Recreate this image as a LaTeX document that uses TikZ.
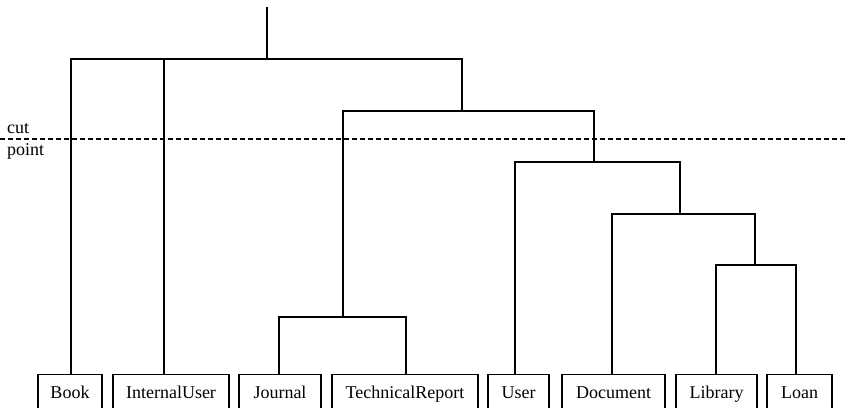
\documentclass[tikz,border=0pt]{standalone}
\usepackage{fontspec}
\setmainfont{Liberation Serif}
\begin{document}
\begin{tikzpicture}[x=1pt,y=-1pt,
  tree/.style={draw=black,line width=1.1pt},
  cutline/.style={draw=black,line width=1.1pt,dash pattern=on 5pt off 3pt},
  leaf/.style={draw=black,line width=1.1pt,anchor=north,inner xsep=0pt,inner ysep=0pt,
    text height=24pt,text depth=20pt,font=\fontsize{18}{21}\selectfont},
  lbl/.style={anchor=base west,inner sep=0pt,font=\fontsize{18}{21}\selectfont}]
\useasboundingbox (0,0) rectangle (848,407);
\clip (0,0) rectangle (848,407);
% leaves
\node[leaf,minimum width=64pt]  (book)    at (70,374)    {Book};
\node[leaf,minimum width=116pt] (iu)      at (171,374)   {InternalUser};
\node[leaf,minimum width=82pt]  (journal) at (280,374)   {Journal};
\node[leaf,minimum width=146pt] (tr)      at (405,374)   {TechnicalReport};
\node[leaf,minimum width=61pt]  (user)    at (518.5,374) {User};
\node[leaf,minimum width=103pt] (doc)     at (613.5,374) {Document};
\node[leaf,minimum width=81pt]  (lib)     at (716.5,374) {Library};
\node[leaf,minimum width=65pt]  (loan)    at (799.5,374) {Loan};
% merge points
\coordinate (rt) at (267,7);
\coordinate (rb) at (267,59);
\coordinate (hL) at (71,59);
\coordinate (hI) at (164,59);
\coordinate (hR) at (462,59);
\coordinate (m4) at (462,111);
\coordinate (m4L) at (343,111);
\coordinate (m4R) at (594,111);
\coordinate (jt) at (343,317);
\coordinate (jtL) at (279,317);
\coordinate (jtR) at (406,317);
\coordinate (m3) at (594,162);
\coordinate (m3L) at (515,162);
\coordinate (m3R) at (680,162);
\coordinate (m2) at (680,214);
\coordinate (m2L) at (612,214);
\coordinate (m2R) at (755,214);
\coordinate (m1) at (755,265);
\coordinate (m1L) at (716,265);
\coordinate (m1R) at (796,265);
% dendrogram
\draw[tree] (rt) -- (rb);
\draw[tree] (book.north -| hL) |- (hR) -- (m4);
\draw[tree] (iu.north -| hI) -- (hI);
\draw[tree] (jt) -- (m4L) -- (m4R) -- (m3);
\draw[tree] (journal.north -| jtL) |- (jtR) -- (tr.north -| jtR);
\draw[tree] (user.north -| m3L) |- (m3R) -- (m2);
\draw[tree] (doc.north -| m2L) |- (m2R) -- (m1);
\draw[tree] (lib.north -| m1L) |- (m1R) -- (loan.north -| m1R);
% cut line
\coordinate (cutL) at (0,139);
\coordinate (cutR) at (848,139);
\draw[cutline] (cutL) -- (cutR);
\node[lbl] (cut) at (7,133) {cut};
\node[lbl] (point) at (7,155) {point};
\end{tikzpicture}
\end{document}
